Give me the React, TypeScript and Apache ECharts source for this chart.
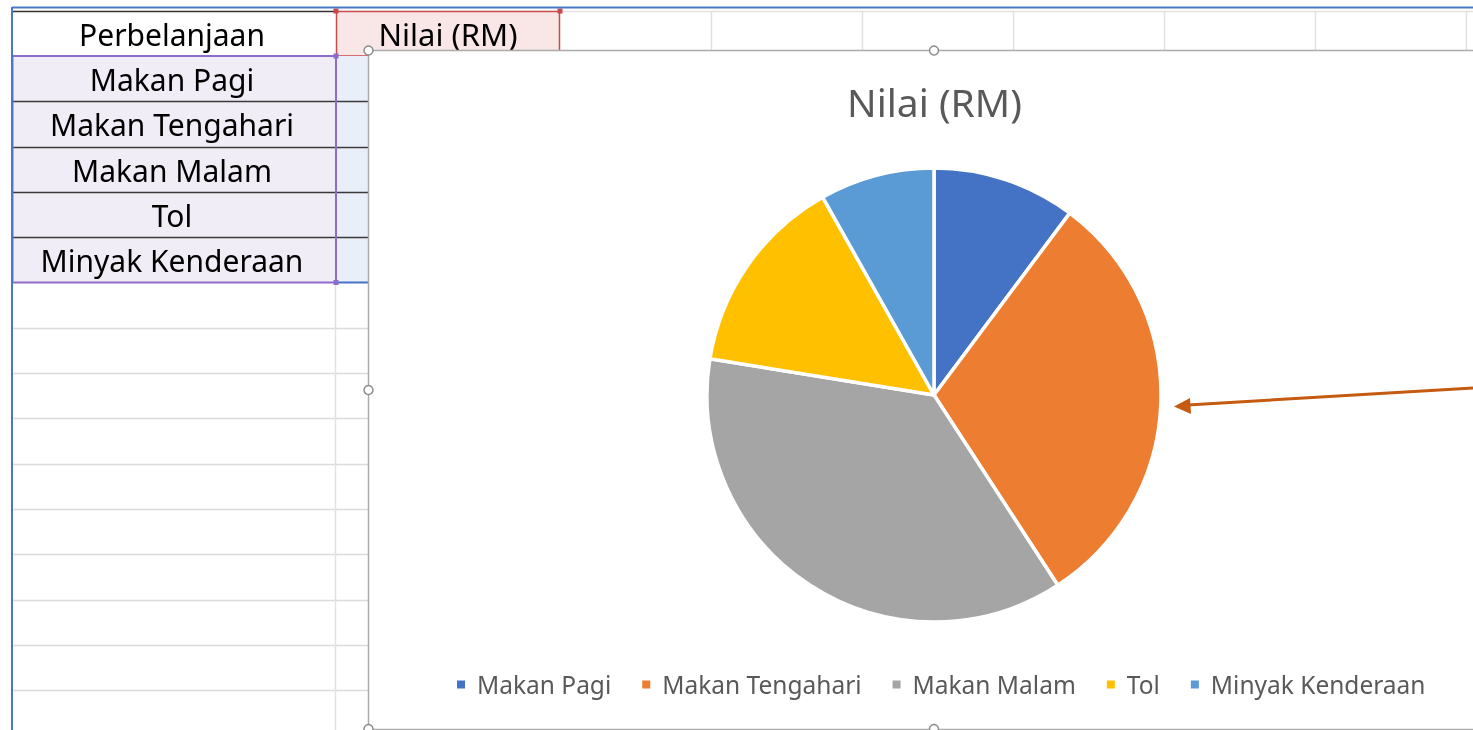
import React, { useEffect, useRef } from "react";
import * as echarts from "echarts";

const categories = ["Makan Pagi", "Makan Tengahari", "Makan Malam", "Tol", "Minyak Kenderaan"];
const values = [5, 15, 18, 7, 4];
const colors = ["#4472C4", "#ED7D31", "#A5A5A5", "#FFC000", "#5B9BD5"];
const headerLabels = ["Perbelanjaan", "Nilai (RM)"];
const chartTitle = "Nilai (RM)";

const FONT = "'Noto Sans', sans-serif";

export default function App() {
  const ref = useRef<HTMLDivElement>(null);
  useEffect(() => {
    document.body.style.margin = "0";
    const chart = echarts.init(ref.current!, null, { renderer: "svg" });
    const W = 1473;
    const H = 730;
    const rowTop = 56;
    const rowH = 45.3;
    const g: any[] = [];
    // page background
    g.push({ type: "rect", shape: { x: 0, y: 0, width: W, height: H }, style: { fill: "#ffffff" } });
    // faint grid lines below table
    for (let i = 6; i < 16; i++) {
      const y = Math.round(rowTop + i * rowH) + 0.5;
      g.push({ type: "line", shape: { x1: 12, y1: y, x2: 368, y2: y }, style: { stroke: "#dadada", lineWidth: 1.5 } });
    }
    g.push({ type: "line", shape: { x1: 335.5, y1: 283, x2: 335.5, y2: H }, style: { stroke: "#e1e1e1", lineWidth: 1.5 } });
    // top row grid verticals
    [711, 862, 1013, 1164, 1315, 1466].forEach((x) => {
      g.push({ type: "line", shape: { x1: x + 0.5, y1: 11, x2: x + 0.5, y2: 50 }, style: { stroke: "#e1e1e1", lineWidth: 1.5 } });
    });
    g.push({ type: "line", shape: { x1: 560, y1: 11.5, x2: W, y2: 11.5 }, style: { stroke: "#e1e1e1", lineWidth: 1.5 } });
    // header cell A
    g.push({ type: "rect", shape: { x: 12, y: 11, width: 324, height: 45 }, style: { fill: "#ffffff" } });
    g.push({ type: "line", shape: { x1: 12, y1: 11.5, x2: 336, y2: 11.5 }, style: { stroke: "#333333", lineWidth: 1.5 } });
    g.push({ type: "text", x: 172, y: 34, style: { text: headerLabels[0], font: `30px ${FONT}`, fill: "#000000", align: "center", verticalAlign: "middle" } });
    // header cell B (selected, red)
    g.push({ type: "rect", shape: { x: 336.5, y: 11.5, width: 223, height: 44.5 }, style: { fill: "#f9e7e7", stroke: "#c8484c", lineWidth: 1.5 } });
    g.push({ type: "text", x: 448, y: 34, style: { text: headerLabels[1], font: `31px ${FONT}`, fill: "#000000", align: "center", verticalAlign: "middle" } });
    [[336, 11], [560, 11]].forEach(([x, y]) => {
      g.push({ type: "rect", shape: { x: x - 2.5, y: y - 2.5, width: 5, height: 5 }, style: { fill: "#c8484c" } });
    });
    // data rows
    for (let i = 0; i < categories.length; i++) {
      const y0 = rowTop + i * rowH;
      g.push({ type: "rect", shape: { x: 12, y: y0, width: 324, height: rowH }, style: { fill: "#f0edf7" } });
      g.push({ type: "rect", shape: { x: 336, y: y0, width: 32, height: rowH }, style: { fill: "#e9eff9" } });
      g.push({ type: "text", x: 172, y: y0 + rowH / 2 + 1, style: { text: categories[i], font: `30px ${FONT}`, fill: "#000000", align: "center", verticalAlign: "middle" } });
      if (i > 0) {
        g.push({ type: "line", shape: { x1: 12, y1: Math.round(y0) + 0.5, x2: 368, y2: Math.round(y0) + 0.5 }, style: { stroke: "#3a3a3a", lineWidth: 1.3 } });
      }
    }
    const tableBottom = rowTop + 5 * rowH;
    g.push({ type: "line", shape: { x1: 336, y1: tableBottom, x2: 368, y2: tableBottom }, style: { stroke: "#4472c4", lineWidth: 2 } });
    g.push({ type: "rect", shape: { x: 12.5, y: rowTop, width: 323.5, height: tableBottom - rowTop }, style: { fill: "none", stroke: "#8e6ccb", lineWidth: 2 } });
    [[336, rowTop], [336, tableBottom]].forEach(([x, y]) => {
      g.push({ type: "rect", shape: { x: x - 2.5, y: y - 2.5, width: 5, height: 5 }, style: { fill: "#8e6ccb" } });
    });
    // blue outer border
    g.push({ type: "line", shape: { x1: 12, y1: 7.5, x2: W, y2: 7.5 }, style: { stroke: "#4a78c8", lineWidth: 2 } });
    g.push({ type: "line", shape: { x1: 12, y1: 7, x2: 12, y2: H }, style: { stroke: "#4a78c8", lineWidth: 2 } });
    // chart area
    g.push({ type: "rect", shape: { x: 368.5, y: 50.5, width: 1200, height: 679 }, style: { fill: "#ffffff", stroke: "#ababab", lineWidth: 1.5 } });
    [[368.5, 50.5], [934, 50.5], [368.5, 390], [368.5, 729], [934, 729]].forEach(([x, y]) => {
      g.push({ type: "circle", shape: { cx: x, cy: y, r: 4.5 }, style: { fill: "#ffffff", stroke: "#8c8c8c", lineWidth: 1.5 } });
    });
    // chart title
    g.push({ type: "text", x: 934.5, y: 101, style: { text: chartTitle, font: `39px ${FONT}`, fill: "#595959", align: "center", verticalAlign: "middle" } });
    // arrow
    g.push({ type: "line", z: 100, shape: { x1: 1473, y1: 388, x2: 1188, y2: 405 }, style: { stroke: "#c55a11", lineWidth: 3 } });
    g.push({ type: "polygon", z: 100, shape: { points: [[1174, 406.5], [1190, 398], [1191, 414]] }, style: { fill: "#c55a11" } });

    chart.setOption({
      animation: false,
      legend: {
        data: categories,
        left: 450,
        top: 667,
        icon: "rect",
        itemWidth: 10,
        itemHeight: 10,
        itemGap: 29,
        textStyle: { fontFamily: FONT, fontSize: 24.5, color: "#595959", padding: [0, 0, 0, 6] },
      },
      graphic: { elements: g },
      series: [
        {
          type: "pie",
          center: [934, 395],
          radius: 227,
          startAngle: 90,
          clockwise: true,
          label: { show: false },
          labelLine: { show: false },
          emphasis: { disabled: true },
          itemStyle: { borderColor: "#ffffff", borderWidth: 3.5 },
          data: categories.map((name, i) => ({ name, value: values[i], itemStyle: { color: colors[i] } })),
        },
      ],
    });
    return () => chart.dispose();
  }, []);
  return <div ref={ref} style={{ position: "fixed", left: 0, top: 0, width: 1473, height: 730 }} />;
}
